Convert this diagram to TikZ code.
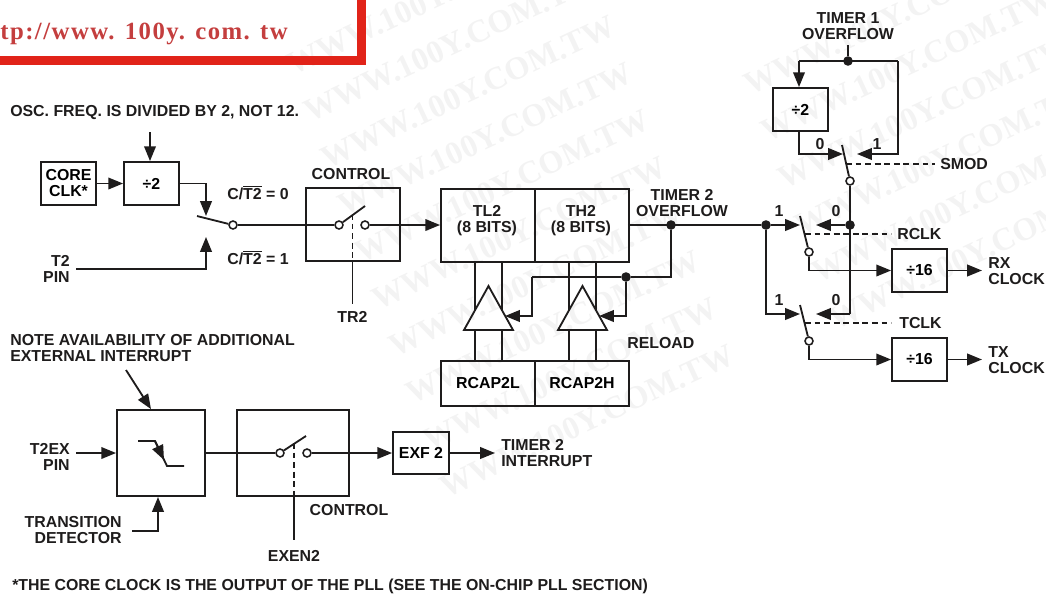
\documentclass[tikz,border=0pt]{standalone}
\usepackage{fontspec}
\setmainfont{Liberation Sans}
\newfontfamily\bannerfont[LetterSpace=6]{Liberation Serif}
\newfontfamily\stampfont{Liberation Serif}
\usepackage{xcolor}
\definecolor{BannerRed}{RGB}{225,35,25}
\definecolor{BannerText}{RGB}{196,62,62}
\definecolor{StampGray}{RGB}{243,243,243}
\definecolor{WireBlack}{RGB}{30,28,28}
\usetikzlibrary{
    arrows.meta,
    positioning,
    shapes.geometric
}

\begin{document}
\begin{tikzpicture}[
    x=0.025cm,
    y=-0.025cm,
%
    block/.style={
        draw=WireBlack,
        line width=1.3pt,
        inner sep=0pt,
        align=center,
        font=\labelfont
    },
%
    divider/.style={
        block,
        minimum width=1.375cm,
        minimum height=1.075cm
    },
%
    wire/.style={
        line width=1.3pt,
        color=WireBlack
    },
%
    flow/.style={
        wire,
        -{Triangle[length=3.7mm,width=2.9mm]}
    },
%
    bridge/.style={
        wire,
        line width=0.8pt,
        dash pattern=on 4.2pt off 2.6pt
    },
%
    contact/.style={
        circle,
        draw=WireBlack,
        line width=1.1pt,
        fill=white,
        inner sep=0pt,
        minimum size=0.2cm
    },
%
    joint/.style={
        circle,
        fill=WireBlack,
        inner sep=0pt,
        minimum size=0.24cm
    },
%
    buffer/.style={
        draw=WireBlack,
        line width=1.3pt,
        line join=miter
    },
%
    tag/.style={
        inner sep=0pt,
        align=left,
        text=WireBlack,
        font=\labelfont
    },
%
    stamp/.style={
        rotate=25,
        inner sep=0pt,
        text=StampGray,
        font=\stampfont\bfseries\fontsize{23}{23}\selectfont
    }
]
\def\labelfont{\bfseries\fontsize{11.3}{11.4}\selectfont}
\def\barT{$\overline{\mbox{T2}}$}
\clip (0,0) rectangle (1046,594);
%
% Watermark behind everything
%
\foreach \i in {-2,...,7} {
    \node[stamp] (stampa\i) at ({468+17*\i},{92+47*\i}) {WWW.100Y.COM.TW};
}
\foreach \i in {-1,...,4} {
    \node[stamp] (stampb\i) at ({908+17*\i},{65+47*\i}) {WWW.100Y.COM.TW};
}
%
% Banner
%
\draw[BannerRed,line width=6.4pt] (-20,-20) rectangle (361.5,60.5);
\node[
    tag,
    anchor=base west,
    text=BannerText,
    font=\bannerfont\bfseries\fontsize{17.6}{18}\selectfont
] (bannerurl) at (0,39) {tp://www. 100y. com. tw};
%
% Clock input
%
\node[tag,anchor=west] (oscnote) at (10,113) {OSC. FREQ. IS DIVIDED BY 2, NOT 12.};
\node[divider] (coreclk) at (68.5,183.5) {CORE\\CLK*};
\node[divider] (divcore) at (151.5,183.5) {÷2};
\coordinate (divtop) at (150,132);
\node[tag,align=right,anchor=east] (t2pin) at (70,269) {T2\\PIN};
\coordinate (t2end) at (76,269);
\coordinate (selin) at (206,216);
\coordinate (selpin) at (206,237);
\coordinate (selblade) at (197,216);
\node[contact] (selout) at (233,225) {};
\node[tag,anchor=west] (selzero) at (227,193) {C/\barT{} = 0};
\node[tag,anchor=west] (selone) at (227,258) {C/\barT{} = 1};
%
\draw[flow] (coreclk) -- (divcore);
\draw[flow] (divtop) -- (divcore.north -| divtop);
\draw[flow] (divcore.east) -| (selin);
\draw[flow] (t2end) -| (selpin);
\draw[wire] (selblade) -- (selout);
%
% Run control
%
\node[
    block,
    minimum width=2.35cm,
    minimum height=1.825cm
] (runbox) at (353,224.5) {};
\node[tag] (runlabel) at (351,174) {CONTROL};
\node[contact] (runa) at (339,225) {};
\node[contact] (runb) at (365,225) {};
\coordinate (runblade) at (365,206);
\coordinate (runmid) at (352.5,214);
\coordinate (tr2end) at (352.5,304);
\node[tag] (tr2) at (352.5,317) {TR2};
%
\draw[wire] (selout) -- (runa);
\draw[wire] (runa) -- (runblade);
\draw[bridge] (runmid) -- (runmid |- runbox.south);
\draw[wire] (runbox.south -| tr2end) -- (tr2end);
%
% Timer registers
%
\node[
    block,
    minimum width=2.35cm,
    minimum height=1.825cm
] (tl2) at (488,225.5) {};
\node[tag,align=center] (tl2text) at (487,220.5) {TL2\\(8 BITS)};
\node[
    block,
    minimum width=2.35cm,
    minimum height=1.825cm
] (th2) at (582,225.5) {};
\node[tag,align=center] (th2text) at (581,220.5) {TH2\\(8 BITS)};
\node[
    block,
    minimum width=2.35cm,
    minimum height=1.125cm
] (rcapl) at (488,383.5) {RCAP2L};
\node[
    block,
    minimum width=2.35cm,
    minimum height=1.125cm
] (rcaph) at (582,383.5) {RCAP2H};
%
\draw[flow] (runb) -- (runb -| tl2.west);
%
\foreach \busx in {475,502,569,596} {
    \draw[wire] (\busx,262) -- (\busx,310);
    \draw[wire] (\busx,330) -- (\busx,361);
}
\coordinate (bufla) at (488.5,286);
\coordinate (buflb) at (464,330);
\coordinate (buflc) at (513,330);
\coordinate (bufha) at (582.5,286);
\coordinate (bufhb) at (558,330);
\coordinate (bufhc) at (607,330);
\draw[buffer] (bufla) -- (buflb) -- (buflc) -- cycle;
\draw[buffer] (bufha) -- (bufhb) -- (bufhc) -- cycle;
%
% Overflow and reload
%
\node[tag,align=center] (overflow) at (682,203) {TIMER 2\\OVERFLOW};
\node[joint] (ovfdot) at (671,225) {};
\node[joint] (splitdot) at (766,225) {};
\node[joint] (reloaddot) at (626,277) {};
\coordinate (relocorner) at (532,277);
\coordinate (relotipl) at (505,316);
\coordinate (relotiph) at (599,316);
\node[tag,anchor=west] (reload) at (627,343) {RELOAD};
%
\draw[wire] (th2.east |- splitdot) -- (splitdot);
\draw[wire] (ovfdot) |- (reloaddot);
\draw[wire] (reloaddot) -- (relocorner);
\draw[flow] (relocorner) |- (relotipl);
\draw[flow] (reloaddot) |- (relotiph);
%
% Timer 1 and SMOD
%
\node[tag,align=center] (t1label) at (848,26) {TIMER 1\\OVERFLOW};
\coordinate (t1end) at (848,45);
\node[joint] (t1dot) at (848,61) {};
\coordinate (t1left) at (799,61);
\coordinate (t1right) at (898,61);
\node[divider] (divt1) at (800.5,109.5) {÷2};
\coordinate (smodzero) at (843,154);
\coordinate (smodone) at (857,154);
\coordinate (smodblade) at (842,145);
\node[contact] (smodout) at (850,181) {};
\coordinate (smoddash) at (846,164);
\node[tag,anchor=west] (smod) at (940,164) {SMOD};
\node[tag] (smodzerolab) at (820,144) {0};
\node[tag] (smodonelab) at (877,144) {1};
\coordinate (smodend) at (935,164);
%
\draw[wire] (t1end) -- (t1dot);
\draw[wire] (t1left) -- (t1right);
\draw[flow] (t1left) -- (t1left |- divt1.north);
\draw[flow] (divt1.south -| t1left) |- (smodzero);
\draw[flow] (t1right) |- (smodone);
\draw[wire] (smodblade) -- (smodout);
\draw[bridge] (smoddash) -- (smodend);
%
% RX and TX clock switches
%
\node[joint] (rxdot) at (850,225) {};
\coordinate (rxone) at (800,225);
\coordinate (rxzero) at (816,225);
\coordinate (rxblade) at (800,216);
\node[contact] (rxout) at (809,252) {};
\node[tag] (rxonelab) at (779,211) {1};
\node[tag] (rxzerolab) at (836,211) {0};
\coordinate (rxdash) at (805,234);
\node[tag,anchor=west] (rclk) at (897,234) {RCLK};
\node[divider] (divrx) at (919.5,270.5) {÷16};
\coordinate (rxend) at (982,270.5);
\node[tag,anchor=west] (rxclock) at (988,271) {RX\\CLOCK};
%
\coordinate (txone) at (800,314);
\coordinate (txzero) at (816,314);
\coordinate (txblade) at (800,305);
\coordinate (txrail) at (850,314);
\node[contact] (txout) at (809,341) {};
\node[tag] (txonelab) at (779,300) {1};
\node[tag] (txzerolab) at (836,300) {0};
\coordinate (txdash) at (805,323);
\node[tag,anchor=west] (tclk) at (899,323) {TCLK};
\node[divider] (divtx) at (919.5,359.5) {÷16};
\coordinate (txend) at (982,359.5);
\node[tag,anchor=west] (txclock) at (988,360) {TX\\CLOCK};
%
\draw[wire] (smodout) -- (txrail);
\draw[flow] (splitdot) -- (rxone);
\draw[flow] (rxdot) -- (rxzero);
\draw[wire] (rxblade) -- (rxout);
\draw[bridge] (rxdash) -- (rxdash -| divrx.west);
\draw[flow] (rxout) |- (divrx.west);
\draw[flow] (divrx) -- (rxend);
%
\draw[flow] (splitdot) |- (txone);
\draw[flow] (txrail) -- (txzero);
\draw[wire] (txblade) -- (txout);
\draw[bridge] (txdash) -- (txdash -| divtx.west);
\draw[flow] (txout) |- (divtx.west);
\draw[flow] (divtx) -- (txend);
%
% External interrupt
%
\node[tag,anchor=west] (extnote) at (10,348) {NOTE AVAILABILITY OF ADDITIONAL\\EXTERNAL INTERRUPT};
\coordinate (extend) at (126,370);
\node[tag,align=right,anchor=east] (t2ex) at (70,457) {T2EX\\PIN};
\coordinate (t2exend) at (76,453);
\node[
    block,
    minimum width=2.2cm,
    minimum height=2.15cm
] (detector) at (161,453) {};
\node[
    block,
    minimum width=2.8cm,
    minimum height=2.15cm
] (extbox) at (293,453) {};
\coordinate (edgea) at (138,441);
\coordinate (edgeb) at (155,441);
\coordinate (edgec) at (167,466);
\coordinate (edged) at (184,466);
\coordinate (edgetip) at (164,460);
\node[tag,align=right,anchor=east] (transition) at (122,530) {TRANSITION\\DETECTOR};
\coordinate (transend) at (132,531);
\coordinate (transtip) at (158,497);
\node[contact] (exta) at (280,453) {};
\node[contact] (extb) at (307,453) {};
\coordinate (extblade) at (306,436);
\coordinate (extmid) at (294,443);
\coordinate (exen) at (294,540);
\node[tag] (extlabel) at (349,510) {CONTROL};
\node[tag] (exenlabel) at (294,556) {EXEN2};
\node[
    block,
    minimum width=1.4cm,
    minimum height=1.05cm
] (exf) at (421,453) {EXF 2};
\coordinate (exfend) at (495,453);
\node[tag,anchor=west] (t2int) at (501,453) {TIMER 2\\INTERRUPT};
%
\draw[flow] (extend) -- (detector.north -| 151,0);
\draw[flow] (t2exend) -- (detector.west |- t2exend);
\draw[wire] (edgea) -- (edgeb) -- (edgec) -- (edged);
\draw[flow] (edgeb) -- (edgetip);
\draw[flow] (transend) -| (transtip);
\draw[wire] (detector.east) -- (exta);
\draw[wire] (exta) -- (extblade);
\draw[bridge] (extmid) -- (extmid |- extbox.south);
\draw[wire] (extbox.south -| exen) -- (exen);
\draw[flow] (extb) -- (exf);
\draw[flow] (exf) -- (exfend);
%
% Footnote
%
\node[tag,anchor=west] (footnote) at (12,586) {*THE CORE CLOCK IS THE OUTPUT OF THE PLL (SEE THE ON-CHIP PLL SECTION)};
%
\end{tikzpicture}
\end{document}
